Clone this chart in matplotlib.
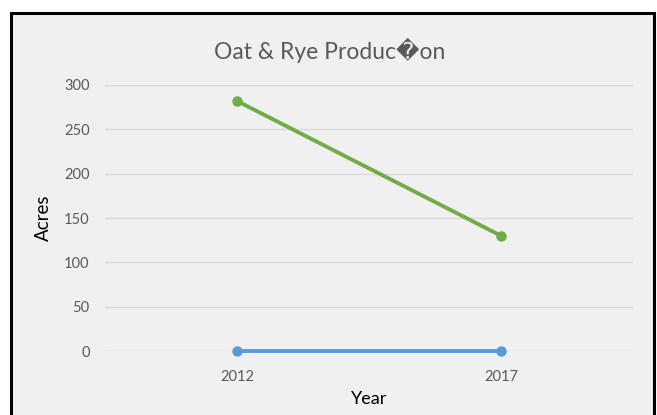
import matplotlib.pyplot as plt
from matplotlib.patches import Rectangle

years = ["2012", "2017"]
oat = [0, 0]
rye = [282, 130]

fam = ["Lato", "DejaVu Sans"]

fig = plt.figure(figsize=(6.57, 4.15), dpi=100)
fig.patch.set_facecolor("white")

# chart area with black frame (bottom edge runs off the image)
W, H = 657, 415
frame = Rectangle((11 / W, -0.05), (654 - 11) / W, (H - 13) / H + 0.05,
                  transform=fig.transFigure, facecolor="#F0F0F0",
                  edgecolor="black", lw=2.2, zorder=-5)
fig.patches.append(frame)

ax = fig.add_axes([105 / W, (H - 351) / H, (633 - 105) / W, (351 - 85) / H])
ax.set_facecolor("none")
ax.set_zorder(2)

x = range(len(years))
ax.plot(x, oat, color="#5B9BD5", lw=2.8, marker="o", ms=6.5, clip_on=False, zorder=3)
ax.plot(x, rye, color="#70AD47", lw=2.8, marker="o", ms=6.5, clip_on=False, zorder=3)

ax.set_xlim(-0.5, 1.5)
ax.set_ylim(0, 300)
ax.set_yticks(range(0, 301, 50))
ax.set_xticks(list(x))
ax.set_xticklabels(years)
ax.grid(axis="y", color="#D9D9D9", lw=1)
ax.set_axisbelow(True)
for s in ax.spines.values():
    s.set_visible(False)
ax.tick_params(length=0, labelsize=10.5, labelcolor="#595959", pad=0)
ax.tick_params(axis="y", pad=11)
ax.tick_params(axis="x", pad=14)
for lab in ax.get_xticklabels() + ax.get_yticklabels():
    lab.set_family(fam)

ax.set_xlabel("Year", fontsize=13, family=fam, color="black", labelpad=5)
ax.set_ylabel("Acres", fontsize=13.5, family=fam, color="black", labelpad=9)

fig.text(330 / W, 1 - 50 / H, "Oat & Rye Produc\ufffdon", ha="center", va="center",
         fontsize=16.5, family=fam, color="#595959")

fig.savefig("out.png", dpi=100)
